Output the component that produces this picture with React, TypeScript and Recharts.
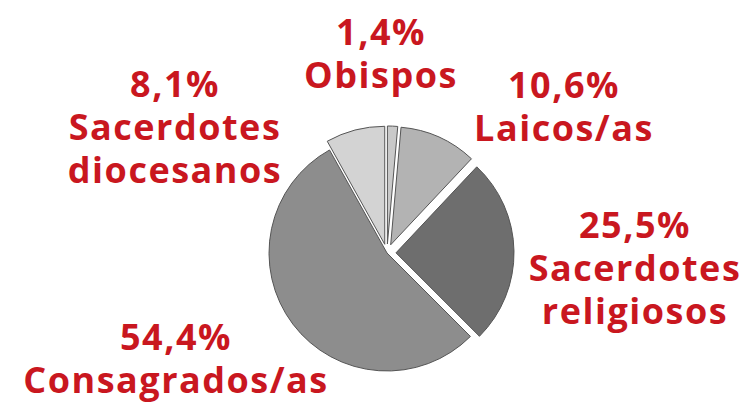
import React from 'react';
import { Cell, Pie, PieChart, Sector } from 'recharts';

const names = [
  'Obispos',
  'Laicos/as',
  'Sacerdotes religiosos',
  'Consagrados/as',
  'Sacerdotes diocesanos',
];
const values = [1.4, 10.6, 25.5, 54.4, 8.1];
const labelLines = [
  ['1,4%', 'Obispos'],
  ['10,6%', 'Laicos/as'],
  ['25,5%', 'Sacerdotes', 'religiosos'],
  ['54,4%', 'Consagrados/as'],
  ['8,1%', 'Sacerdotes', 'diocesanos'],
];

const FILLS = ['#c9c9c9', '#b3b3b3', '#6e6e6e', '#8d8d8d', '#d3d3d3'];
const RED = '#c9171f';
const CX = 387;
const CY = 253;
const RADIUS = 118;
const EXPLODE = 9;

// first-baseline offset of each label block, relative to pie centre
const LABEL_OFFSETS = [
  { dx: -6, dy: -208 },
  { dx: 177, dy: -155 },
  { dx: 248, dy: -15 },
  { dx: -211, dy: 97 },
  { dx: -212, dy: -156 },
];
const LINE_GAP = 43;

const data = names.map((name, i) => ({ name, value: values[i] }));

const RAD = Math.PI / 180;

function ExplodedSector(props: any) {
  const { cx, cy, midAngle, payload } = props;
  const name = payload?.name ?? props.name;
  const d = name === 'Consagrados/as' ? 0 : EXPLODE;
  const ox = Math.cos(-midAngle * RAD) * d;
  const oy = Math.sin(-midAngle * RAD) * d;
  return (
    <Sector
      {...props}
      cx={cx + ox}
      cy={cy + oy}
      stroke='#555'
      strokeWidth={1}
    />
  );
}

function renderLabel(props: any) {
  const { index } = props;
  const off = LABEL_OFFSETS[index];
  const lines = labelLines[index];
  return (
    <text
      key={index}
      x={CX + off.dx}
      y={CY + off.dy}
      textAnchor='middle'
      fill={RED}
      fontSize={36}
      fontWeight={700}
      letterSpacing={1.5}
      fontFamily='"Open Sans", sans-serif'
    >
      {lines.map((l, i) => (
        <tspan key={i} x={CX + off.dx} dy={i === 0 ? 0 : LINE_GAP}>
          {l}
        </tspan>
      ))}
    </text>
  );
}

export default function App() {
  return (
    <div style={{ width: 749, height: 403, background: '#fff' }}>
      <style>{'body{margin:0}'}</style>
      <PieChart width={749} height={403} margin={{ top: 0, right: 0, bottom: 0, left: 0 }}>
        <Pie
          data={data}
          dataKey='value'
          nameKey='name'
          cx={CX}
          cy={CY}
          outerRadius={RADIUS}
          startAngle={90}
          endAngle={-270}
          shape={ExplodedSector}
          label={renderLabel}
          labelLine={false}
          isAnimationActive={false}
        >
          {data.map((d, i) => (
            <Cell key={d.name} fill={FILLS[i]} />
          ))}
        </Pie>
      </PieChart>
    </div>
  );
}
